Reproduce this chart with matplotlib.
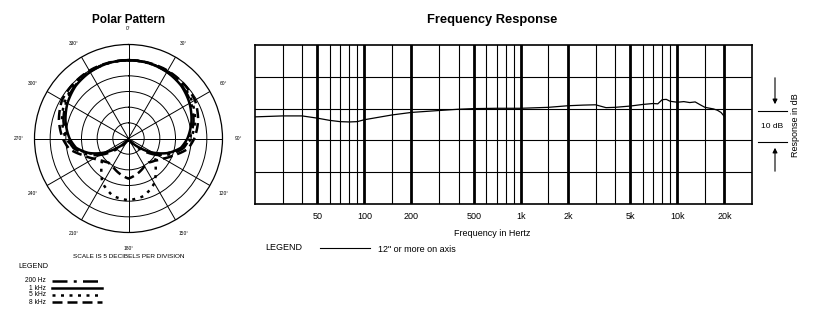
import numpy as np
import matplotlib
matplotlib.use("Agg")
import matplotlib.pyplot as plt

plt.rcParams['font.family'] = ['Liberation Sans', 'DejaVu Sans']

# Polar pattern: angles (deg, clockwise from front) and level in plot units (5 units = 5 dB ring)
angulos = [0, 15, 30, 45, 60, 75, 90, 100, 110, 120, 130, 140, 150, 165, 180]
nivel_200 = [25, 24.9, 24.6, 24.0, 23.0, 21.5, 19.5, 17.8, 14.5, 10.5, 6.0, 2.5, 1.0, 0.6, 0.5]
nivel_1k = [25, 24.9, 24.5, 23.8, 22.5, 20.8, 18.8, 17.0, 13.5, 9.0, 4.5, 1.5, 0.5, 0.3, 0.3]
nivel_5k = [25, 24.9, 24.8, 24.3, 23.5, 22.0, 20.0, 17.5, 13.5, 10.5, 11.0, 13.5, 16.5, 19.0, 19.7]
nivel_8k = [25, 25.0, 25.0, 24.8, 24.5, 23.0, 21.0, 19.2, 15.5, 12.8, 11.0, 10.0, 10.2, 11.5, 12.8]

angulos_rotulos = [0, 30, 60, 90, 120, 150, 180, 210, 240, 270, 300, 330]

# Frequency response
freqs = [20, 30, 40, 50, 60, 70, 80, 90, 100, 150, 200, 300, 400, 500, 700, 1000,
         1500, 2000, 2500, 3000, 3500, 4000, 5000, 6000, 7000, 7500, 8000, 8500,
         9000, 10000, 11000, 12000, 13000, 14000, 15000, 17000, 18000, 19000, 20000]
resposta = [-2.6, -2.3, -2.3, -3.0, -3.7, -4.1, -4.2, -4.1, -3.5, -2.0, -1.2, -0.6,
            -0.2, 0.0, 0.1, 0.1, 0.4, 0.9, 1.1, 1.2, 0.3, 0.4, 0.8, 1.3, 1.6, 1.5,
            2.8, 2.9, 2.3, 2.0, 2.2, 1.9, 2.1, 1.2, 0.4, -0.1, -0.5, -1.2, -2.5]

grade_grossa = [50, 100, 200, 500, 1000, 2000, 5000, 10000, 20000]
grade_fina = [30, 40, 60, 70, 80, 90, 150, 300, 400, 600, 700, 800, 900,
              1500, 3000, 4000, 6000, 7000, 8000, 9000, 15000]
rotulos_x = ['50', '100', '200', '500', '1k', '2k', '5k', '10k', '20k']
grade_y = [-20, -10, 0, 10]


def espelhar(ang, val):
    # completa o lado esquerdo (simetrico) da curva polar
    a = list(ang) + [360 - x for x in ang[::-1][1:]]
    v = list(val) + list(val[::-1][1:])
    return np.deg2rad(a), np.array(v)


fig = plt.figure(figsize=(8.27, 3.23), dpi=100)

# ---------- Polar Pattern ----------
axp = fig.add_axes([34.5 / 827, 1 - 232.5 / 323, 188 / 827, 188 / 323], projection='polar')
axp.set_theta_zero_location('N')
axp.set_theta_direction(-1)
axp.set_ylim(0, 30)
axp.set_rgrids([5, 10, 15, 20, 25], labels=[''] * 5)
axp.set_thetagrids(angulos_rotulos, labels=[f'{a}°' for a in angulos_rotulos], fontsize=3.5)
axp.tick_params(pad=1)
axp.grid(True, color='black', linewidth=0.7)
axp.spines['polar'].set_linewidth(0.9)

estilos = [
    (nivel_200, (0, (6, 2.5, 1.2, 2.5))),
    (nivel_1k, '-'),
    (nivel_5k, (0, (1.2, 2.2))),
    (nivel_8k, (0, (4, 2))),
]
for niveis, ls in estilos:
    th, r = espelhar(angulos, niveis)
    linha, = axp.plot(th, r, color='black', linestyle=ls, linewidth=1.8)
    # desenha os segmentos como arcos em coordenadas polares
    linha.get_path()._interpolation_steps = 30

fig.text(128.5 / 827, 1 - 20 / 323, 'Polar Pattern', ha='center', va='center',
         fontsize=8.5, fontweight='bold')
fig.text(128.5 / 827, 1 - 256 / 323, 'SCALE IS 5 DECIBELS PER DIVISION', ha='center',
         va='center', fontsize=4.6)
fig.text(18 / 827, 1 - 267 / 323, 'LEGEND', ha='left', va='center', fontsize=5.2)

nomes_leg = ['200 Hz', '1 kHz', '5 kHz', '8 kHz']
ys_leg = [281, 288, 295, 302]
for nome, yy, (_, ls) in zip(nomes_leg, ys_leg, estilos):
    fig.text(46 / 827, 1 - yy / 323, nome, ha='right', va='center', fontsize=4.8)
    fig.add_artist(plt.Line2D([52 / 827, 102 / 827], [1 - yy / 323, 1 - yy / 323],
                              color='black', linestyle=ls, linewidth=1.8))

# ---------- Frequency Response ----------
axf = fig.add_axes([255 / 827, 1 - 204 / 323, 497 / 827, 159 / 323])
axf.set_xscale('log')
axf.set_xlim(20, 30000)
axf.set_ylim(-30, 20)
for f in grade_grossa:
    axf.axvline(f, color='black', linewidth=2.0)
for f in grade_fina:
    axf.axvline(f, color='black', linewidth=0.8)
for y in grade_y:
    axf.axhline(y, color='black', linewidth=0.8)
axf.plot(freqs, resposta, color='black', linewidth=0.9)
axf.set_xticks(grade_grossa)
axf.set_xticklabels(rotulos_x, fontsize=6.5)
axf.xaxis.set_minor_locator(matplotlib.ticker.NullLocator())
axf.set_yticks([])
axf.tick_params(axis='x', length=0, pad=6)
for s in axf.spines.values():
    s.set_linewidth(1.2)

fig.text(492 / 827, 1 - 20 / 323, 'Frequency Response', ha='center', va='center',
         fontsize=9.3, fontweight='bold')
fig.text(492 / 827, 1 - 233 / 323, 'Frequency in Hertz', ha='center', va='center',
         fontsize=6.5)
fig.text(265 / 827, 1 - 248 / 323, 'LEGEND', ha='left', va='center', fontsize=6.5)
fig.add_artist(plt.Line2D([320 / 827, 370 / 827], [1 - 248 / 323, 1 - 248 / 323],
                          color='black', linewidth=0.8))
fig.text(378 / 827, 1 - 250 / 323, '12" or more on axis', ha='left', va='center',
         fontsize=6.5)

# escala de 10 dB a direita
for yy in [110.7, 142]:
    fig.add_artist(plt.Line2D([758 / 827, 787 / 827], [1 - yy / 323, 1 - yy / 323],
                              color='black', linewidth=0.8))
fig.text(772 / 827, 1 - 126.5 / 323, '10 dB', ha='center', va='center', fontsize=6)
axf.annotate('', xy=(775 / 827, 1 - 107 / 323), xytext=(775 / 827, 1 - 75 / 323),
             xycoords='figure fraction',
             arrowprops=dict(arrowstyle='-|>', color='black', lw=0.8, mutation_scale=7))
axf.annotate('', xy=(775 / 827, 1 - 145 / 323), xytext=(775 / 827, 1 - 174 / 323),
             xycoords='figure fraction',
             arrowprops=dict(arrowstyle='-|>', color='black', lw=0.8, mutation_scale=7))
fig.text(795 / 827, 1 - 125 / 323, 'Response in dB', ha='center', va='center',
         rotation=90, fontsize=6.5)

fig.savefig('out.png', dpi=100)
